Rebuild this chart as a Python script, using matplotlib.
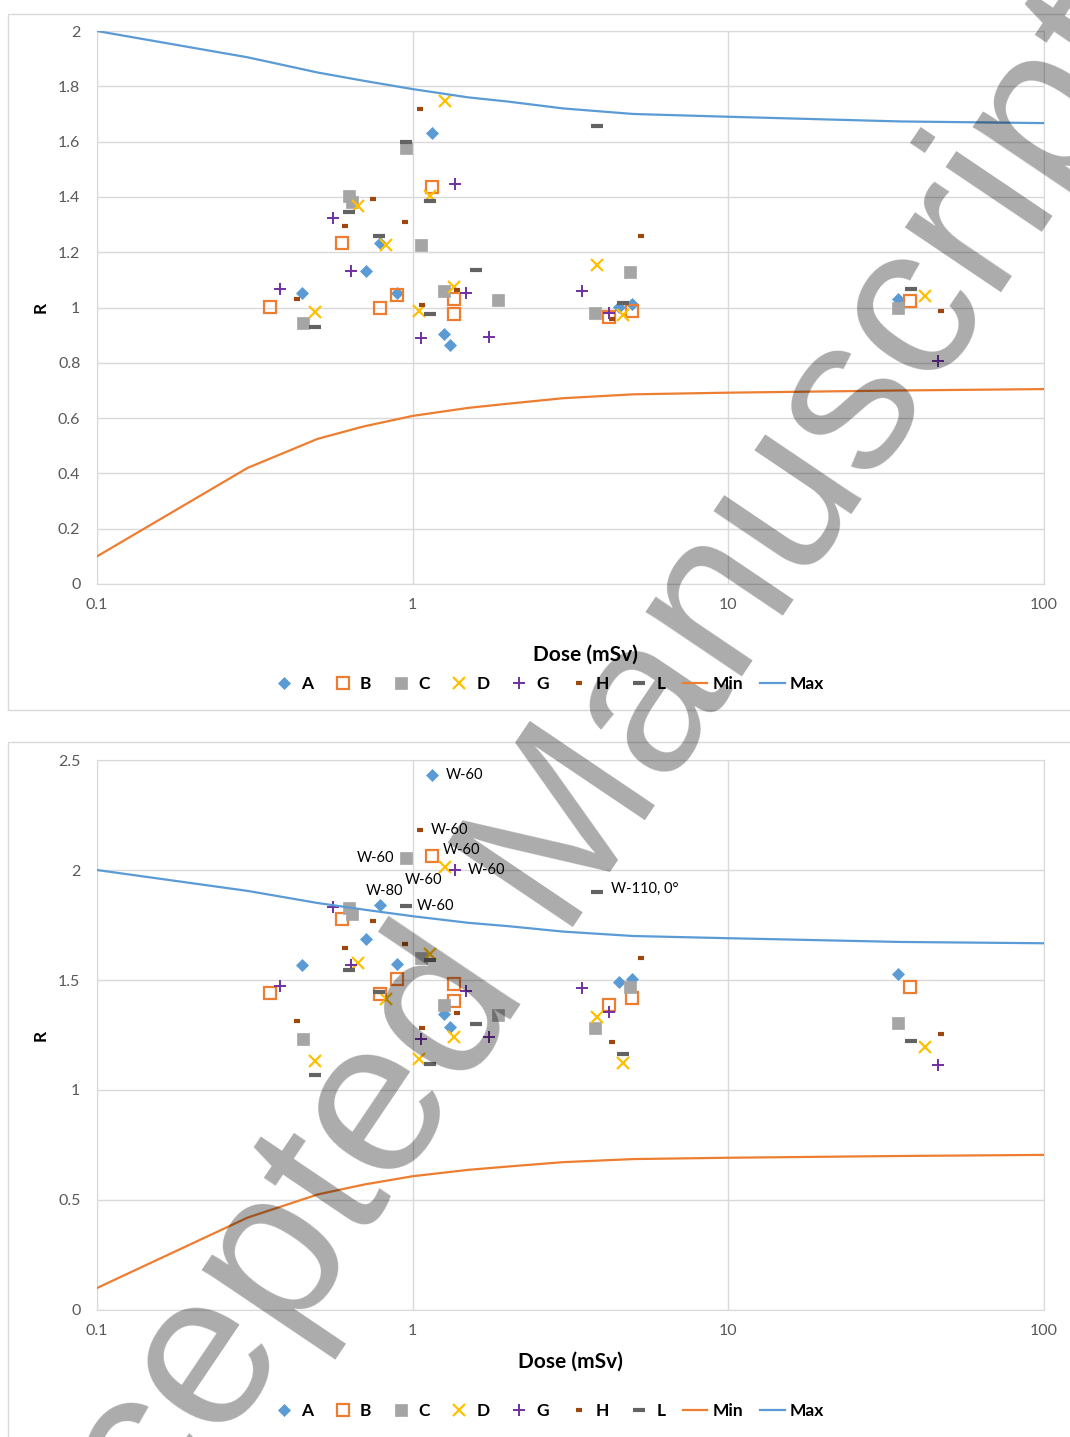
import matplotlib.pyplot as plt
import matplotlib.patches as patches
from matplotlib.lines import Line2D

plt.rcParams['font.family'] = ['Lato', 'DejaVu Sans']

# dose (mSv) and response R for each dosemeter type; r1 = raw, r2 = corrected
dose_A = [0.446, 0.711, 0.787, 0.891, 1.151, 1.256, 1.313, 4.50, 4.95, 34.4]
r1_A = [1.052, 1.132, 1.233, 1.052, 1.631, 0.904, 0.864, 1.002, 1.013, 1.031]
r2_A = [1.568, 1.686, 1.841, 1.573, 2.432, 1.345, 1.286, 1.491, 1.505, 1.527]

dose_B = [0.353, 0.597, 0.787, 0.891, 1.151, 1.352, 1.352, 4.19, 4.95, 37.6]
r1_B = [1.002, 1.233, 0.998, 1.045, 1.436, 1.031, 0.976, 0.966, 0.987, 1.023]
r2_B = [1.441, 1.777, 1.436, 1.505, 2.064, 1.482, 1.405, 1.386, 1.418, 1.468]

dose_C = [0.449, 0.628, 0.640, 0.953, 1.062, 1.256, 1.862, 3.77, 4.88, 34.4]
r1_C = [0.944, 1.403, 1.382, 1.577, 1.226, 1.060, 1.027, 0.980, 1.128, 0.998]
r2_C = [1.232, 1.827, 1.800, 2.055, 1.600, 1.386, 1.341, 1.282, 1.468, 1.305]

dose_D = [0.491, 0.671, 0.822, 1.047, 1.135, 1.265, 1.352, 3.84, 4.64, 42.0]
r1_D = [0.984, 1.367, 1.226, 0.987, 1.403, 1.747, 1.074, 1.154, 0.973, 1.042]
r2_D = [1.132, 1.577, 1.414, 1.141, 1.618, 2.014, 1.241, 1.332, 1.123, 1.195]

dose_G = [0.380, 0.560, 0.638, 1.062, 1.360, 1.475, 1.746, 3.44, 4.19, 46.1]
r1_G = [1.067, 1.324, 1.132, 0.890, 1.447, 1.052, 0.893, 1.060, 0.980, 0.807]
r2_G = [1.473, 1.832, 1.568, 1.232, 2.000, 1.450, 1.241, 1.464, 1.355, 1.114]

dose_H = [0.430, 0.611, 0.748, 0.946, 1.055, 1.070, 1.380, 5.28, 4.27, 47.1]
r1_H = [1.031, 1.295, 1.392, 1.309, 1.718, 1.009, 1.063, 1.259, 0.958, 0.987]
r2_H = [1.314, 1.645, 1.768, 1.664, 2.182, 1.282, 1.350, 1.600, 1.218, 1.255]

dose_L = [0.491, 0.628, 0.781, 0.953, 1.135, 1.135, 1.585, 3.84, 4.64, 37.8]
r1_L = [0.929, 1.345, 1.259, 1.599, 1.385, 0.976, 1.136, 1.656, 1.016, 1.067]
r2_L = [1.068, 1.545, 1.445, 1.836, 1.591, 1.118, 1.300, 1.900, 1.164, 1.223]

# acceptance limits
lim_dose = [0.1, 0.3, 0.5, 0.7, 1, 1.5, 2, 3, 5, 10, 35, 100]
lim_min = [0.10, 0.42, 0.525, 0.57, 0.608, 0.637, 0.652, 0.672, 0.686, 0.692, 0.70, 0.705]
lim_max = [2.00, 1.905, 1.85, 1.82, 1.79, 1.76, 1.745, 1.72, 1.70, 1.69, 1.673, 1.667]

# (series, index, text, dx px, dy px, ha) labels on the corrected panel
notes = [
    ('A', 4, 'W-60', 14, 0, 'left'),
    ('H', 4, 'W-60', 11, 0, 'left'),
    ('C', 3, 'W-60', -12, 0, 'right'),
    ('B', 4, 'W-60', 11, 6, 'left'),
    ('G', 4, 'W-60', 13, 0, 'left'),
    ('D', 5, 'W-60', -21, -13, 'center'),
    ('A', 2, 'W-80', 5, 14, 'center'),
    ('L', 3, 'W-60', 11, 0, 'left'),
    ('L', 7, 'W-110, 0°', 14, 3, 'left'),
]

styles = {
    'A': dict(marker='D', color='#5b9bd5', ms=6.5, mfc='#5b9bd5', mec='#5b9bd5', mew=0.5),
    'B': dict(marker='s', color='#ed7d31', ms=8.5, mfc='none', mec='#ed7d31', mew=1.6),
    'C': dict(marker='s', color='#a5a5a5', ms=8.5, mfc='#a5a5a5', mec='#a5a5a5', mew=0.5),
    'D': dict(marker='x', color='#ffc000', ms=8.5, mec='#ffc000', mew=1.6),
    'G': dict(marker='+', color='#7030a0', ms=9, mec='#7030a0', mew=1.4),
    'H': dict(marker='_', color='#9e480e', ms=5, mec='#9e480e', mew=3),
    'L': dict(marker='_', color='#636363', ms=8, mec='#636363', mew=3),
}

raw = {'A': (dose_A, r1_A), 'B': (dose_B, r1_B), 'C': (dose_C, r1_C), 'D': (dose_D, r1_D),
       'G': (dose_G, r1_G), 'H': (dose_H, r1_H), 'L': (dose_L, r1_L)}
corr = {'A': (dose_A, r2_A), 'B': (dose_B, r2_B), 'C': (dose_C, r2_C), 'D': (dose_D, r2_D),
        'G': (dose_G, r2_G), 'H': (dose_H, r2_H), 'L': (dose_L, r2_L)}

fig = plt.figure(figsize=(10.70, 14.37), dpi=100)

# panel frames
fig.patches.append(patches.Rectangle((0.0075, 0.5059), 1.0, 0.4843, transform=fig.transFigure,
                                     fill=False, edgecolor='#d9d9d9', lw=1))
fig.patches.append(patches.Rectangle((0.0075, -0.01), 1.0, 0.4936, transform=fig.transFigure,
                                     fill=False, edgecolor='#d9d9d9', lw=1))

ax1 = fig.add_axes([0.0907, 0.5936, 0.885, 0.3848])
ax2 = fig.add_axes([0.0907, 0.0884, 0.885, 0.3827])


def draw(ax, data, ymax, ystep, xlab_x, xlab_y):
    for key, (x, y) in data.items():
        ax.plot(x, y, ls='none', zorder=3, **styles[key])
    ax.plot(lim_dose, lim_min, color='#ed7d31', lw=1.6, zorder=4)
    ax.plot(lim_dose, lim_max, color='#5b9bd5', lw=1.6, zorder=4)
    ax.set_xscale('log')
    ax.set_xlim(0.1, 100)
    ax.set_ylim(0, ymax)
    ax.set_xticks([0.1, 1, 10, 100])
    ax.set_xticklabels(['0.1', '1', '10', '100'])
    ax.minorticks_off()
    yt = [i * ystep for i in range(int(round(ymax / ystep)) + 1)]
    ax.set_yticks(yt)
    ax.set_yticklabels([f'{v:g}' for v in yt])
    ax.grid(True, color='#d9d9d9', lw=1)
    ax.set_axisbelow(True)
    for s in ax.spines.values():
        s.set_color('#d9d9d9')
    ax.tick_params(length=0, labelsize=11.5, labelcolor='#595959')
    ax.tick_params(axis='y', pad=12)
    ax.tick_params(axis='x', pad=10)
    ax.set_xlabel('Dose (mSv)', fontsize=15, fontweight='bold')
    ax.xaxis.set_label_coords(xlab_x, xlab_y)
    ax.set_ylabel('R', fontsize=12.5, fontweight='bold')
    ax.yaxis.set_label_coords(-0.051, 0.5)


draw(ax1, raw, 2.0, 0.2, 0.516, -0.11)
draw(ax2, corr, 2.5, 0.5, 0.5, -0.076)

for key, i, txt, dx, dy, ha in notes:
    x, y = corr[key]
    ax2.annotate(txt, (x[i], y[i]), xytext=(dx * 0.72, dy * 0.72), textcoords='offset points',
                 ha=ha, va='center', fontsize=10.5, color='black', zorder=5)

handles = [Line2D([], [], ls='none', **styles[k]) for k in ['A', 'B', 'C', 'D', 'G', 'H', 'L']]
handles += [Line2D([], [], color='#ed7d31', lw=1.6), Line2D([], [], color='#5b9bd5', lw=1.6)]
labels = ['A', 'B', 'C', 'D', 'G', 'H', 'L', 'Min', 'Max']
for ypos in (0.524, 0.0181):
    fig.legend(handles, labels, loc='center', bbox_to_anchor=(0.512, ypos), ncol=9, frameon=False,
               prop={'weight': 'bold', 'size': 12.5}, handlelength=1.4, handletextpad=0.3,
               columnspacing=1.0)

# publisher watermark
fig.text(0.508, 0.395, 'Accepted Manuscript', fontsize=158, family='Liberation Sans',
         color='black', alpha=0.33, rotation=56, rotation_mode='anchor',
         ha='center', va='center')

fig.savefig('out.png', dpi=100)
